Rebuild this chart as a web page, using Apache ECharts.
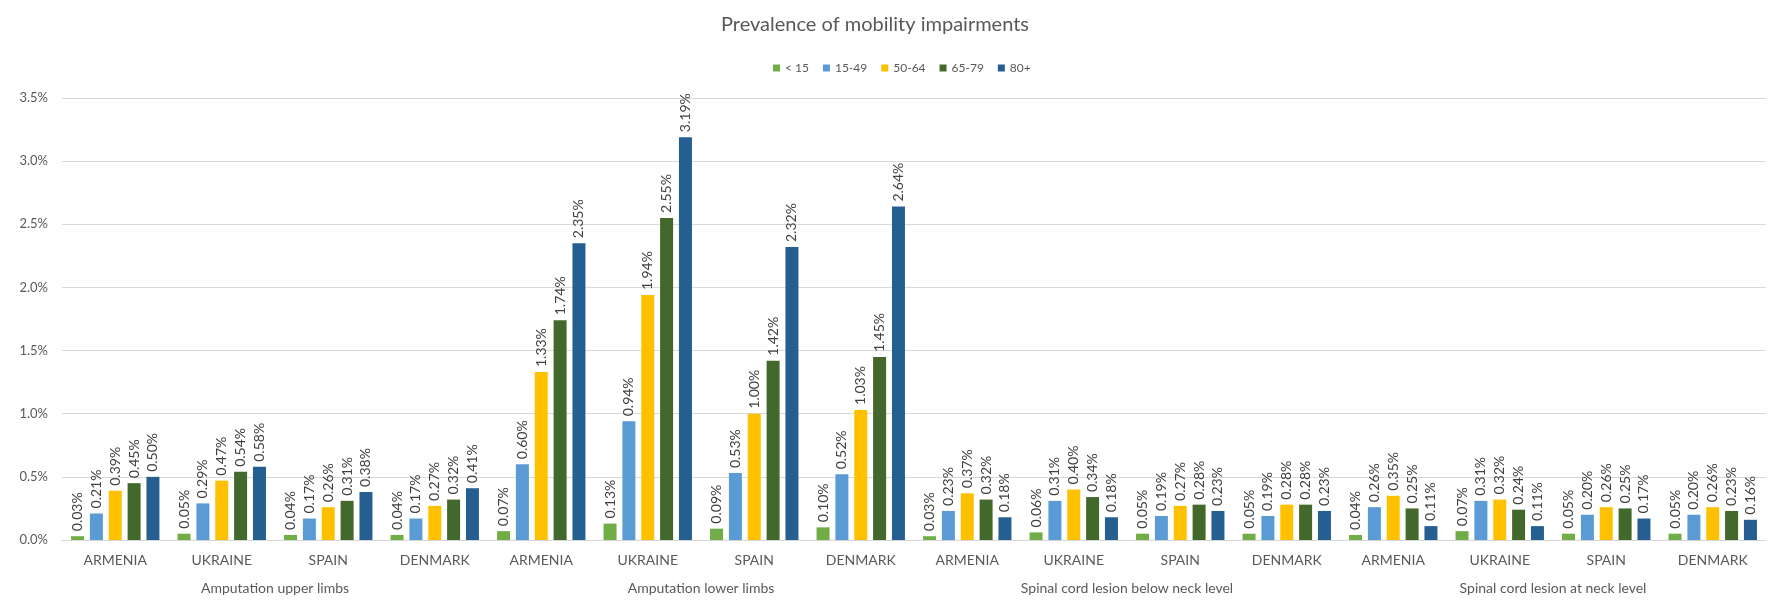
<!DOCTYPE html>
<html>
<head>
<meta charset="utf-8">
<title>Prevalence of mobility impairments</title>
<script src="https://cdn.jsdelivr.net/npm/echarts@6/dist/echarts.min.js"></script>
<style>
  html, body { margin: 0; padding: 0; background: #fff; }
  #main { width: 1771px; height: 603px; }
</style>
</head>
<body>
<div id="main"></div>
<script>
// groups and countries (two-level category axis)
var groups = ['Amputation upper limbs', 'Amputation lower limbs', 'Spinal cord lesion below neck level', 'Spinal cord lesion at neck level'];
var countries = ['ARMENIA', 'UKRAINE', 'SPAIN', 'DENMARK'];
var ageNames = ['< 15', '15-49', '50-64', '65-79', '80+'];

// values in percent, 16 categories = 4 groups x 4 countries
var age0to14 = [0.03, 0.05, 0.04, 0.04, 0.07, 0.13, 0.09, 0.10, 0.03, 0.06, 0.05, 0.05, 0.04, 0.07, 0.05, 0.05];
var age15to49 = [0.21, 0.29, 0.17, 0.17, 0.60, 0.94, 0.53, 0.52, 0.23, 0.31, 0.19, 0.19, 0.26, 0.31, 0.20, 0.20];
var age50to64 = [0.39, 0.47, 0.26, 0.27, 1.33, 1.94, 1.00, 1.03, 0.37, 0.40, 0.27, 0.28, 0.35, 0.32, 0.26, 0.26];
var age65to79 = [0.45, 0.54, 0.31, 0.32, 1.74, 2.55, 1.42, 1.45, 0.32, 0.34, 0.28, 0.28, 0.25, 0.24, 0.25, 0.23];
var age80plus = [0.50, 0.58, 0.38, 0.41, 2.35, 3.19, 2.32, 2.64, 0.18, 0.18, 0.23, 0.23, 0.11, 0.11, 0.17, 0.16];

var colors = ['#70AD47', '#5B9BD5', '#FFC000', '#43682B', '#255E91'];
var font = 'Lato, "Open Sans", sans-serif';

var categories = [];
groups.forEach(function () {
    countries.forEach(function (c) { categories.push(c); });
});

var allValues = [age0to14, age15to49, age50to64, age65to79, age80plus];

var series = allValues.map(function (vals, i) {
    return {
        name: ageNames[i],
        type: 'bar',
        xAxisIndex: 0,
        data: vals,
        barWidth: 13,
        barGap: '45%',
        itemStyle: { color: colors[i] },
        label: {
            show: true,
            position: 'top',
            rotate: 90,
            align: 'left',
            verticalAlign: 'middle',
            distance: 5,
            fontFamily: font,
            fontSize: 14,
            color: '#404040',
            formatter: function (p) { return p.value.toFixed(2) + '%'; }
        }
    };
});

var myChart = echarts.init(document.getElementById('main'));

var option = {
    backgroundColor: '#fff',
    title: {
        text: 'Prevalence of mobility impairments',
        left: 870,
        textAlign: 'center',
        top: 10,
        textStyle: { fontFamily: font, fontSize: 20, fontWeight: 'normal', color: '#595959' }
    },
    legend: {
        data: ageNames,
        left: 768,
        top: 57,
        itemWidth: 7,
        itemHeight: 7,
        itemGap: 14,
        icon: 'rect',
        textStyle: { fontFamily: font, fontSize: 12, color: '#595959' }
    },
    grid: { left: 62, right: 5, top: 98, bottom: 63 },
    xAxis: [{
        type: 'category',
        data: categories,
        axisLine: { lineStyle: { color: '#d9d9d9' } },
        axisTick: { show: false },
        axisLabel: { interval: 0, margin: 13, fontFamily: font, fontSize: 14, color: '#595959' }
    }, {
        type: 'category',
        data: groups,
        position: 'bottom',
        offset: 28,
        axisLine: { show: false },
        axisTick: { show: false },
        axisLabel: { interval: 0, margin: 13, fontFamily: font, fontSize: 14, color: '#595959' }
    }],
    yAxis: {
        type: 'value',
        min: 0,
        max: 3.5,
        interval: 0.5,
        axisLine: { show: false },
        axisTick: { show: false },
        splitLine: { lineStyle: { color: '#d9d9d9', width: 1 } },
        axisLabel: {
            margin: 14,
            fontFamily: font,
            fontSize: 13,
            color: '#595959',
            formatter: function (v) { return v.toFixed(1) + '%'; }
        }
    },
    series: series
};

myChart.setOption(option);
</script>
</body>
</html>
